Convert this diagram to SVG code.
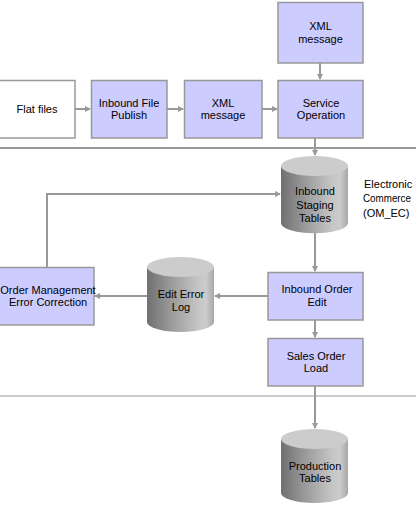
<svg xmlns="http://www.w3.org/2000/svg" width="416" height="507" viewBox="0 0 416 507">
<style>
.box{fill:#ccccff;stroke:#999999;stroke-width:1.5}
.wbox{fill:#ffffff;stroke:#999999;stroke-width:1.5}
.t{font-family:"Liberation Sans",Arial,sans-serif;font-size:11px;fill:#000;text-anchor:middle}
.tl{font-family:"Liberation Sans",Arial,sans-serif;font-size:11px;fill:#000}
.c{fill:none;stroke:#999999;stroke-width:2}
.top{fill:#cccccc}
.side{fill:url(#cyl)}
</style>
<defs>
<linearGradient id="cyl" x1="0" y1="0" x2="1" y2="0">
<stop offset="0" stop-color="#707070"/>
<stop offset="0.35" stop-color="#999999"/>
<stop offset="0.75" stop-color="#c4c4c4"/>
<stop offset="0.88" stop-color="#cccccc"/>
<stop offset="1" stop-color="#a8a8a8"/>
</linearGradient>
<marker id="ah" markerWidth="6" markerHeight="6" refX="5" refY="3" orient="auto" markerUnits="userSpaceOnUse">
<path d="M0,0 L6,3 L0,6 Z" fill="#999999"/>
</marker>
</defs>
<line x1="0" y1="148" x2="416" y2="148" stroke="#999999" stroke-width="2"/>
<line x1="0" y1="396" x2="416" y2="396" stroke="#999999" stroke-width="1.2"/>
<g id="connectors">
<line class="c" x1="75" y1="109" x2="90" y2="109" marker-end="url(#ah)"/>
<line class="c" x1="167" y1="109" x2="183" y2="109" marker-end="url(#ah)"/>
<line class="c" x1="262" y1="109" x2="277" y2="109" marker-end="url(#ah)"/>
<line class="c" x1="320" y1="63" x2="320" y2="79" marker-end="url(#ah)"/>
<line class="c" x1="315" y1="138" x2="315" y2="155" marker-end="url(#ah)"/>
<polyline class="c" points="47,267 47,194 280,194" marker-end="url(#ah)"/>
<line class="c" x1="315" y1="233" x2="315" y2="271" marker-end="url(#ah)"/>
<line class="c" x1="268" y1="296" x2="215" y2="296" marker-end="url(#ah)"/>
<line class="c" x1="147" y1="296" x2="95" y2="296" marker-end="url(#ah)"/>
<line class="c" x1="315" y1="320" x2="315" y2="337" marker-end="url(#ah)"/>
<line class="c" x1="315" y1="386" x2="315" y2="428" marker-end="url(#ah)"/>
</g>
<g id="xml-top">
<rect class="box" x="278" y="2.5" width="85" height="60.5"/>
<text class="t" x="320.5" y="30">XML</text>
<text class="t" x="320.5" y="43">message</text>
</g>
<g id="flat-files">
<rect class="wbox" x="-1" y="80.5" width="76" height="57.5"/>
<text class="t" x="37" y="113">Flat files</text>
</g>
<g id="inbound-file-publish">
<rect class="box" x="91.5" y="80.5" width="75.5" height="57.5"/>
<text class="t" x="129" y="107">Inbound File</text>
<text class="t" x="129" y="119">Publish</text>
</g>
<g id="xml-message">
<rect class="box" x="184.5" y="80.5" width="77.5" height="57.5"/>
<text class="t" x="223" y="107">XML</text>
<text class="t" x="223" y="119">message</text>
</g>
<g id="service-operation">
<rect class="box" x="278" y="80.5" width="85" height="57.5"/>
<text class="t" x="321" y="107">Service</text>
<text class="t" x="321" y="119">Operation</text>
</g>
<g id="inbound-staging">
<path class="side" d="M281,166 L281,223 A33,10 0 0 0 348,223 L348,166 Z"/>
<ellipse class="top" cx="314.5" cy="166" rx="33.5" ry="10"/>
<text class="t" x="315" y="195">Inbound</text>
<text class="t" x="315" y="209">Staging</text>
<text class="t" x="315" y="222">Tables</text>
</g>
<g id="ec-label">
<text class="tl" x="364" y="188">Electronic</text>
<text class="tl" x="363" y="202" textLength="48" lengthAdjust="spacingAndGlyphs">Commerce</text>
<text class="tl" x="363" y="217">(OM_EC)</text>
</g>
<g id="om-error-correction">
<rect class="box" x="-1" y="267.5" width="95" height="57.5"/>
<text class="t" x="48" y="294">Order Management</text>
<text class="t" x="48" y="306">Error Correction</text>
</g>
<g id="edit-error-log">
<path class="side" d="M147,267 L147,322 A33.5,10 0 0 0 214,322 L214,267 Z"/>
<ellipse class="top" cx="180.5" cy="267" rx="33.5" ry="10"/>
<text class="t" x="181" y="298">Edit Error</text>
<text class="t" x="181" y="311">Log</text>
</g>
<g id="inbound-order-edit">
<rect class="box" x="268" y="272.5" width="95" height="47.5"/>
<text class="t" x="317" y="293">Inbound Order</text>
<text class="t" x="317" y="306">Edit</text>
</g>
<g id="sales-order-load">
<rect class="box" x="268" y="338.5" width="95" height="47.5"/>
<text class="t" x="316" y="360">Sales Order</text>
<text class="t" x="316" y="372">Load</text>
</g>
<g id="production-tables">
<path class="side" d="M281,439 L281,493 A33.5,10 0 0 0 348,493 L348,439 Z"/>
<ellipse class="top" cx="314.5" cy="439" rx="33.5" ry="10"/>
<text class="t" x="315" y="470">Production</text>
<text class="t" x="315" y="482">Tables</text>
</g>
</svg>
